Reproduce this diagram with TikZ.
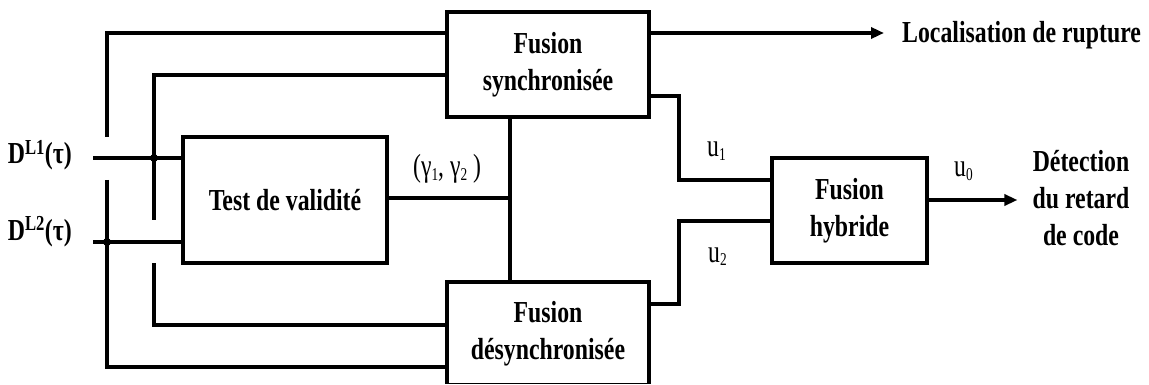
\documentclass[tikz,border=0pt]{standalone}
\usepackage{fontspec}
\setmainfont{Liberation Serif}[FakeStretch=0.78]
\newfontfamily\lblfam{Liberation Serif}[FakeStretch=0.74]
\usetikzlibrary{arrows.meta}
\newcommand\bffont{\fontsize{30.5}{37}\selectfont\bfseries}
\newcommand\lblfont{\lblfam\fontsize{32}{34}\selectfont}
\newcommand\lsub[1]{\raisebox{-3.5pt}{\fontsize{18}{18}\selectfont #1}}
\tikzset{
  blk/.style={draw, line width=4pt, rectangle, align=center, inner sep=0pt, font=\bffont},
  wire/.style={line width=3.5pt},
  arr/.style={wire, -{Triangle[length=13pt,width=11pt]}},
  jdot/.style={circle, fill, inner sep=0pt, minimum size=8pt},
  lbl/.style={inner sep=0pt, font=\lblfont},
  blbl/.style={inner sep=0pt, font=\bffont},
}
\begin{document}
\begin{tikzpicture}[x=1pt,y=-1pt]
\useasboundingbox (0,0) rectangle (1149,385);
\clip (0,0) rectangle (1149,383);

% blocks
\node[blk, minimum width=202pt, minimum height=105pt] (sync) at (548,64.5) {Fusion\\synchronisée};
\node[blk, minimum width=202pt, minimum height=103pt] (desync) at (548,333.5) {Fusion\\désynchronisée};
\node[blk, minimum width=204pt, minimum height=126pt] (test) at (285,200) {Test de validité};
\node[blk, minimum width=155pt, minimum height=105pt] (hyb) at (849.5,210.5) {Fusion\\hybride};

% texts
\node[blbl, anchor=base west] (loc) at (902,43) {Localisation de rupture};
\node[blbl, align=center] (det) at (1081,198) {Détection\\du retard\\de code};
\node[blbl, anchor=base east] (d1) at (72,164) {D\textsuperscript{L1}(τ)};
\node[blbl, anchor=base east] (d2) at (72,240) {D\textsuperscript{L2}(τ)};
\node[lbl, anchor=base west] (gam) at (413,177) {(γ\lsub{1}, γ\lsub{2} )};
\node[lbl, anchor=base west] (u1) at (707,157) {u\lsub{1}};
\node[lbl, anchor=base west] (u2) at (708,262) {u\lsub{2}};
\node[lbl, anchor=base west] (u0) at (954,177) {u\lsub{0}};

% helper coordinates
\coordinate (ya) at (0,33);
\coordinate (yb) at (0,75);
\coordinate (yc) at (0,325);
\coordinate (yd) at (0,367);
\coordinate (ye) at (0,96);
\coordinate (yf) at (0,304);
\coordinate (yg) at (0,180);
\coordinate (yh) at (0,221);
\coordinate (yi) at (0,198);
\coordinate (yj) at (0,200);
\coordinate (xm) at (679,0);
\coordinate (xv) at (510,0);

\coordinate (in1) at (93,158);
\coordinate (in2) at (93,242);
\coordinate (j1) at (154,158);
\coordinate (j2) at (107,242);
\coordinate (g1a) at (154,220);
\coordinate (g1b) at (154,263);
\coordinate (g2a) at (107,137);
\coordinate (g2b) at (107,180);

% inputs
\draw[wire] (in1) -- (test.west |- in1);
\draw[wire] (in2) -- (test.west |- in2);
\draw[wire] (sync.west |- ya) -| (g2a);
\draw[wire] (g2b) |- (desync.west |- yd);
\draw[wire] (sync.west |- yb) -| (g1a);
\draw[wire] (g1b) |- (desync.west |- yc);
\node[jdot] (dot1) at (j1) {};
\node[jdot] (dot2) at (j2) {};

% middle
\draw[wire] (test.east |- yi) -- (xv |- yi);
\draw[wire] (sync.south -| xv) -- (desync.north -| xv);

% outputs
\draw[arr, shorten >=18pt] (sync.east |- ya) -- (loc.west |- ya);
\draw[wire] (sync.east |- ye) -| (xm |- yg) -- (hyb.west |- yg);
\draw[wire] (desync.east |- yf) -| (xm |- yh) -- (hyb.west |- yh);
\draw[arr, shorten >=15pt] (hyb.east |- yj) -- (det.west |- yj);
\end{tikzpicture}
\end{document}
